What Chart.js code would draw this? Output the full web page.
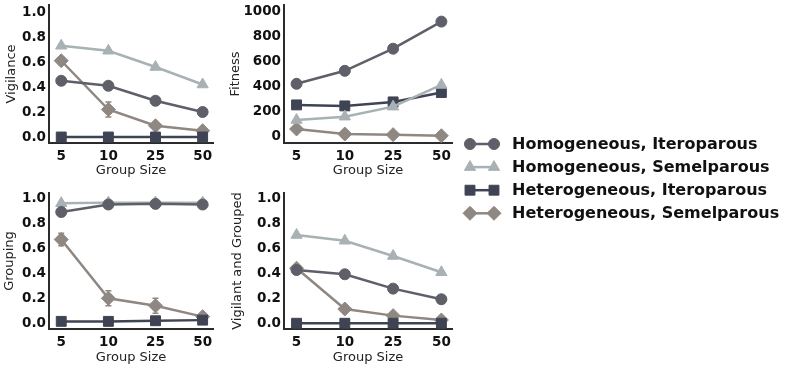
<!DOCTYPE html>
<html>
<head>
<meta charset="utf-8">
<script src="https://cdn.jsdelivr.net/npm/chart.js@4.4.0/dist/chart.umd.min.js"></script>
<style>
  body { margin: 0; background: #fff; width: 789px; height: 369px; overflow: hidden; position: relative; }
  canvas { position: absolute; }
</style>
</head>
<body>
<canvas id="c1" width="228" height="195" style="left:0;top:-15px"></canvas>
<canvas id="c2" width="241" height="195" style="left:226px;top:-15px"></canvas>
<canvas id="c3" width="228" height="196" style="left:0;top:173px"></canvas>
<canvas id="c4" width="241" height="196" style="left:226px;top:173px"></canvas>
<canvas id="leg" width="329" height="110" style="left:460px;top:120px"></canvas>
<script>
const groupSizes = ["5", "10", "25", "50"];
const seriesNames = [
  "Homogeneous, Iteroparous",
  "Homogeneous, Semelparous",
  "Heterogeneous, Iteroparous",
  "Heterogeneous, Semelparous",
];

const unitTicks = [0, 0.2, 0.4, 0.6, 0.8, 1.0];
const fitTicks = [0, 200, 400, 600, 800, 1000];

// Vigilance
const vigHomIt = [0.45, 0.41, 0.29, 0.2];
const vigHomSem = [0.73, 0.69, 0.56, 0.42];
const vigHetIt = [0.0, 0.0, 0.0, 0.0];
const vigHetSem = [0.61, 0.22, 0.09, 0.05];
const vigHetSemErr = [0.03, 0.06, 0.02, 0.01];

// Fitness
const fitHomIt = [424, 528, 705, 922];
const fitHomSem = [134, 161, 241, 415];
const fitHetIt = [255, 247, 279, 354];
const fitHetSem = [62, 22, 17, 8];

// Grouping
const grpHomIt = [0.89, 0.95, 0.955, 0.95];
const grpHomSem = [0.96, 0.965, 0.965, 0.965];
const grpHetIt = [0.015, 0.015, 0.02, 0.025];
const grpHetSem = [0.67, 0.2, 0.14, 0.053];
const grpHomItErr = [0.03, 0.01, 0.01, 0.01];
const grpHetSemErr = [0.05, 0.06, 0.06, 0.02];

// Vigilant and Grouped
const vgHomIt = [0.426, 0.392, 0.277, 0.192];
const vgHomSem = [0.706, 0.66, 0.538, 0.408];
const vgHetIt = [0.0, 0.0, 0.0, 0.0];
const vgHetSem = [0.44, 0.114, 0.061, 0.026];

// styles
const colors = ["#5e5f68", "#a8b1b3", "#3f4454", "#8f8782"];
const markers = ["circle", "triangle", "rect", "rectRot"];
const radii = [5.5, 6.5, 7, 7];

Chart.defaults.font.family = "'DejaVu Sans'";
Chart.defaults.animation = false;

const errorBars = {
  id: "errorBars",
  beforeDatasetsDraw(chart) {
    const { ctx, scales: { x, y } } = chart;
    chart.data.datasets.forEach((ds) => {
      if (!ds.err) return;
      ctx.save();
      ctx.strokeStyle = ds.borderColor;
      ctx.lineWidth = 1.5;
      ds.data.forEach((p, i) => {
        const px = x.getPixelForValue(p.x);
        const top = y.getPixelForValue(p.y + ds.err[i]);
        const bot = y.getPixelForValue(p.y - ds.err[i]);
        ctx.beginPath();
        ctx.moveTo(px, top); ctx.lineTo(px, bot);
        ctx.moveTo(px - 3, top); ctx.lineTo(px + 3, top);
        ctx.moveTo(px - 3, bot); ctx.lineTo(px + 3, bot);
        ctx.stroke();
      });
      ctx.restore();
    });
  },
};

function makeSet(k, vals, err) {
  return {
    label: seriesNames[k],
    data: vals.map((v, i) => ({ x: i, y: v })),
    err: err,
    borderColor: colors[k],
    backgroundColor: colors[k],
    borderWidth: 2.5,
    pointStyle: markers[k],
    pointRadius: radii[k],
    pointBorderWidth: 1,
    clip: false,
  };
}

function makePanel(id, yTitle, yMin, yMax, yTicks, fmt, sets, yWidth, xHeight, yPad, xPad) {
  new Chart(document.getElementById(id), {
    type: "line",
    data: { datasets: sets },
    plugins: [errorBars],
    options: {
      responsive: false,
      layout: { padding: { top: 20, right: 15, left: 0, bottom: 0 } },
      plugins: { legend: { display: false }, tooltip: { enabled: false } },
      scales: {
        x: {
          type: "linear",
          min: -0.26,
          max: 3.22,
          afterBuildTicks: (s) => { s.ticks = groupSizes.map((g, i) => ({ value: i })); },
          afterFit: (s) => { s.height = xHeight; },
          grid: { display: false, drawTicks: false },
          border: { display: true, color: "#2b2b2b", width: 2 },
          ticks: {
            font: { weight: "bold", size: 13.5 },
            color: "#111",
            padding: 5,
            maxRotation: 0,
            callback: (v) => groupSizes[v],
          },
          title: { display: true, text: "Group Size", font: { size: 13 }, color: "#222", padding: { top: 0, bottom: xPad } },
        },
        y: {
          type: "linear",
          min: yMin,
          max: yMax,
          afterBuildTicks: (s) => { s.ticks = yTicks.map((v) => ({ value: v })); },
          afterFit: (s) => { s.width = yWidth; },
          grid: { display: false, drawTicks: false },
          border: { display: true, color: "#2b2b2b", width: 2 },
          ticks: {
            font: { weight: "bold", size: 13.5 },
            color: "#111",
            padding: 3,
            callback: fmt,
          },
          title: { display: true, text: yTitle, font: { size: 13 }, color: "#222", padding: { top: yPad, bottom: 0 } },
        },
      },
    },
  });
}

const fmt1 = (v) => v.toFixed(1);
const fmt0 = (v) => String(v);

makePanel("c1", "Vigilance", -0.048, 1.056, unitTicks, fmt1, [
  makeSet(0, vigHomIt), makeSet(1, vigHomSem), makeSet(2, vigHetIt), makeSet(3, vigHetSem, vigHetSemErr),
], 49, 37, 4, 2);

makePanel("c2", "Fitness", -50, 1055, fitTicks, fmt0, [
  makeSet(0, fitHomIt), makeSet(1, fitHomSem), makeSet(2, fitHetIt), makeSet(3, fitHetSem),
], 58, 37, 2, 2);

makePanel("c3", "Grouping", -0.046, 1.042, unitTicks, fmt1, [
  makeSet(0, grpHomIt, grpHomItErr), makeSet(1, grpHomSem), makeSet(2, grpHetIt), makeSet(3, grpHetSem, grpHetSemErr),
], 49, 40, 2, 4);

makePanel("c4", "Vigilant and Grouped", -0.046, 1.042, unitTicks, fmt1, [
  makeSet(0, vgHomIt), makeSet(1, vgHomSem), makeSet(2, vgHetIt), makeSet(3, vgHetSem),
], 58, 40, 4, 4);

// legend drawn on its own canvas
const legendDraw = {
  id: "legendDraw",
  afterDraw(chart) {
    const ctx = chart.ctx;
    chart.data.datasets.forEach((ds, k) => {
      const y = 24 + k * 23.1;
      ctx.save();
      ctx.strokeStyle = ds.borderColor;
      ctx.fillStyle = ds.backgroundColor;
      ctx.lineWidth = 2.5;
      ctx.beginPath();
      ctx.moveTo(10, y); ctx.lineTo(34, y);
      ctx.stroke();
      ctx.lineWidth = 1;
      [10, 34].forEach((x) => {
        Chart.helpers.drawPoint(ctx, { pointStyle: ds.pointStyle, radius: ds.pointRadius, rotation: 0, borderWidth: 1 }, x, y);
      });
      ctx.fillStyle = "#111";
      ctx.font = "bold 16px 'DejaVu Sans'";
      ctx.textBaseline = "middle";
      ctx.fillText(ds.label, 52, y + 1);
      ctx.restore();
    });
  },
};

new Chart(document.getElementById("leg"), {
  type: "line",
  data: { datasets: [0, 1, 2, 3].map((k) => makeSet(k, [])) },
  plugins: [legendDraw],
  options: {
    responsive: false,
    plugins: { legend: { display: false }, tooltip: { enabled: false } },
    scales: { x: { display: false }, y: { display: false } },
  },
});
</script>
</body>
</html>
